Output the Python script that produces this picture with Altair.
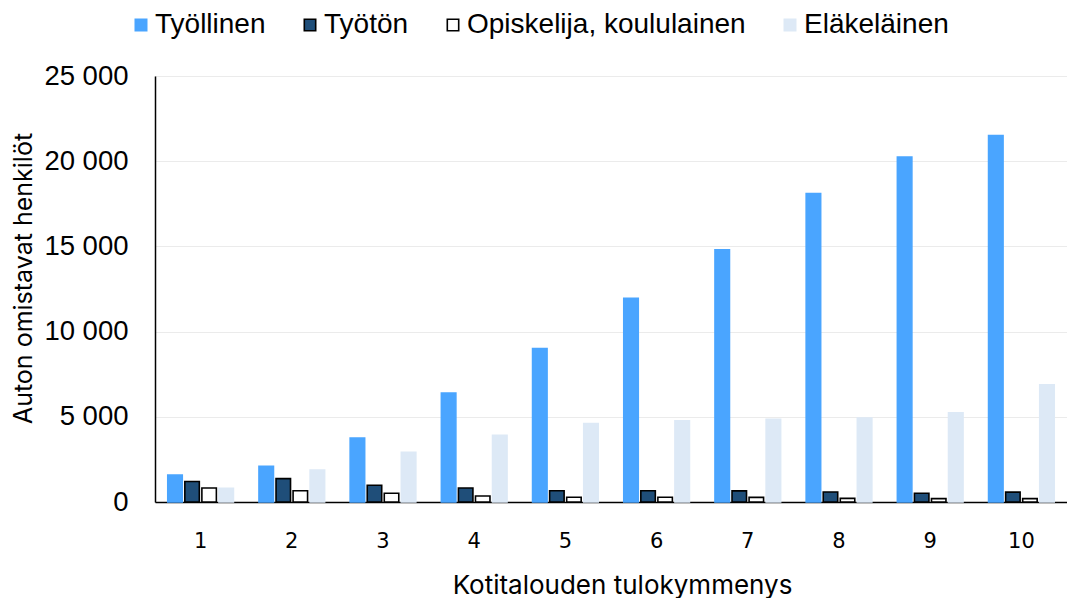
import altair as alt
import pandas as pd

deciles = ["1", "2", "3", "4", "5", "6", "7", "8", "9", "10"]
series = ["Työllinen", "Työtön", "Opiskelija, koululainen", "Eläkeläinen"]
tyollinen = [1580, 2100, 3750, 6400, 9000, 11950, 14800, 18100, 20250, 21500]
tyoton = [1200, 1370, 980, 820, 660, 660, 650, 590, 510, 580]
opiskelija = [820, 660, 510, 350, 275, 275, 270, 210, 200, 200]
elakelainen = [800, 1880, 2910, 3910, 4610, 4770, 4850, 4930, 5240, 6880]

colors = ["#4aa5ff", "#1f4e79", "#ffffff", "#dde9f6"]
strokes = ["#4aa5ff", "#000000", "#000000", "#dde9f6"]

rows = []
for name, vals in zip(series, [tyollinen, tyoton, opiskelija, elakelainen]):
    for d, v in zip(deciles, vals):
        rows.append({"decile": d, "series": name, "value": v})
df = pd.DataFrame(rows)

LEG_FONT = "Liberation Sans"
TITLE_FONT = "Inter"


def legend():
    return alt.Legend(orient="none", direction="horizontal", columns=4,
                      legendX=-28, legendY=-65,
                      symbolType="square", symbolSize=130,
                      symbolStrokeWidth=1.6,
                      labelFontSize=28, labelFont=LEG_FONT, labelColor="#000000",
                      labelLimit=500, columnPadding=30, labelOffset=0)


chart = alt.Chart(df).mark_bar(strokeWidth=1.6).encode(
    x=alt.X("decile:N", sort=deciles, title="Kotitalouden tulokymmenys",
            scale=alt.Scale(paddingInner=0.28, paddingOuter=0.14),
            axis=alt.Axis(labelAngle=0, ticks=False, domainColor="#000000", domainWidth=1.5,
                          labelFontSize=21, labelPadding=28, labelColor="#000000",
                          labelFont="DejaVu Sans",
                          titleFontSize=26, titleFontWeight="normal", titleColor="#000000",
                          titlePadding=21, titleFont=TITLE_FONT, titleX=467)),
    xOffset=alt.XOffset("series:N", sort=series,
                        scale=alt.Scale(paddingInner=0.15, paddingOuter=0.0)),
    y=alt.Y("value:Q", title="Auton omistavat henkilöt",
            scale=alt.Scale(domain=[0, 25000], nice=False),
            axis=alt.Axis(values=[0, 5000, 10000, 15000, 20000, 25000],
                          labelExpr="replace(format(datum.value, ','), ',', ' ')",
                          ticks=False, domainColor="#000000", domainWidth=1.5,
                          gridColor="#ebebeb", gridWidth=1.2,
                          labelFontSize=27.5, labelPadding=27, labelColor="#000000",
                          labelFont=LEG_FONT,
                          titleFontSize=25, titleFontWeight="normal", titleColor="#000000",
                          titlePadding=7, titleFont=TITLE_FONT, titleY=202)),
    fill=alt.Fill("series:N", sort=series, title=None,
                  scale=alt.Scale(domain=series, range=colors), legend=legend()),
    stroke=alt.Stroke("series:N", sort=series, title=None,
                      scale=alt.Scale(domain=series, range=strokes), legend=legend()),
).properties(
    width=912, height=426,
    autosize=alt.AutoSizeParams(type="none"),
    padding={"left": 147, "top": 68, "right": 0, "bottom": 96},
).configure_view(stroke=None).configure(background="#ffffff")

chart.save("out.html", embed_options={"renderer": "svg", "actions": False})
